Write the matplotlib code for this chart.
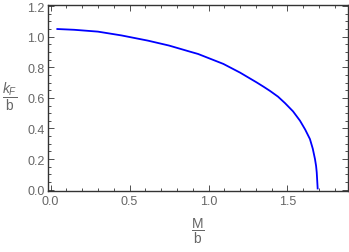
import numpy as np
import matplotlib.pyplot as plt
from matplotlib.ticker import MultipleLocator

plt.rcParams['font.family'] = ['Liberation Sans', 'DejaVu Sans']
plt.rcParams['mathtext.fontset'] = 'custom'
plt.rcParams['mathtext.rm'] = 'Liberation Sans'
plt.rcParams['mathtext.it'] = 'Liberation Sans:italic'

# values
M_b = [0.043, 0.15, 0.30, 0.45, 0.617, 0.75, 0.883, 0.934, 1.094, 1.20,
       1.305, 1.35, 1.390, 1.44, 1.484, 1.535, 1.579, 1.612, 1.642, 1.660,
       1.674, 1.681, 1.685, 1.691]
kF_b = [1.050, 1.045, 1.033, 1.008, 0.974, 0.942, 0.902, 0.887, 0.822, 0.765,
        0.701, 0.672, 0.645, 0.608, 0.566, 0.512, 0.451, 0.393, 0.331, 0.268,
        0.200, 0.155, 0.114, 0.008]

gray = '#666666'
frame = '#333333'

fig = plt.figure(figsize=(3.49, 2.53), dpi=100)
ax = fig.add_axes([48 / 349, 60.7 / 253, 300 / 349, 186.3 / 253])

ax.plot(M_b, kF_b, color='#0000ff', lw=1.3)

ax.set_xlim(-0.016, 1.883)
ax.set_ylim(-0.0105, 1.207)
ax.xaxis.set_major_locator(MultipleLocator(0.5))
ax.xaxis.set_minor_locator(MultipleLocator(0.1))
ax.yaxis.set_major_locator(MultipleLocator(0.2))
ax.yaxis.set_minor_locator(MultipleLocator(0.05))
ax.xaxis.set_major_formatter(lambda v, p: f'{v:.1f}')
ax.yaxis.set_major_formatter(lambda v, p: f'{v:.1f}')

ax.tick_params(which='both', direction='in', top=True, right=True,
               colors=frame, labelcolor=gray, labelsize=9, width=0.6)
ax.tick_params(which='major', length=4, pad=2.5)
ax.tick_params(which='minor', length=2)
for s in ax.spines.values():
    s.set_color(frame)
    s.set_linewidth(1.0)

fig.text(10 / 349, 1 - 97 / 253, r'$\dfrac{k_F}{\mathrm{b}}$', color=gray,
         fontsize=10, ha='center', va='center')
fig.text(198 / 349, 1 - 231 / 253, r'$\dfrac{\mathrm{M}}{\mathrm{b}}$', color=gray,
         fontsize=10, ha='center', va='center')

fig.savefig('out.png', dpi=100)
